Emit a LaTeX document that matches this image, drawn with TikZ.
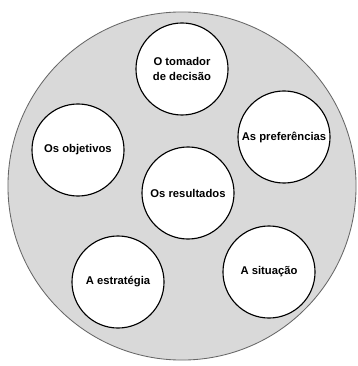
\documentclass[tikz,border=0pt]{standalone}
\usepackage{fontspec}
\setmainfont{Liberation Sans}
\usepackage{xcolor}
\usepackage{tikz}
\usetikzlibrary{positioning}
\definecolor{discgray}{RGB}{217,217,217}
\tikzset{elem/.style={circle, draw=black, fill=white, line width=0.8pt,
    minimum size=2.3cm, inner sep=0pt, align=center,
    font=\fontsize{8}{10.5}\selectfont\bfseries}}

\begin{document}
\begin{tikzpicture}[x=0.025cm, y=-0.025cm]
                \useasboundingbox (0,0) rectangle (357,366);
                % outer disc
                \draw[fill=discgray, draw=black!60, line width=0.6pt] (182,186) circle[radius=4.35cm];
                % elements
                \node[elem] (decisor) at (182,69) {O tomador\\de decisão};
                \node[elem] (objetivos) at (78,150) {Os objetivos};
                \node[elem] (preferencias) at (284,137) {As preferências};
                \node[elem] (resultados) at (188,193) {Os resultados};
                \node[elem] (estrategia) at (118,282) {A estratégia};
                \node[elem] (situacao) at (269,272) {A situação};
            \end{tikzpicture}
\end{document}
